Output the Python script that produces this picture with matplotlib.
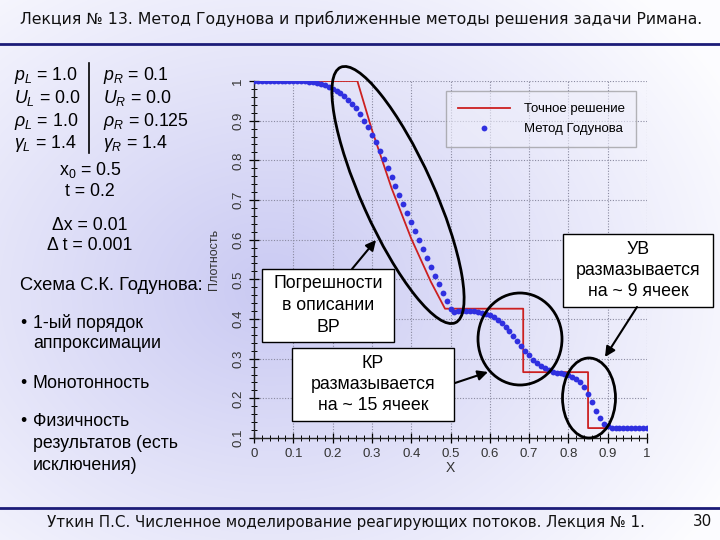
import numpy as np
import matplotlib.pyplot as plt
from matplotlib.patches import Ellipse, Rectangle
from matplotlib.ticker import MultipleLocator, FuncFormatter

plt.rcParams['font.family'] = ['Liberation Sans', 'DejaVu Sans']
plt.rcParams['mathtext.fontset'] = 'custom'
plt.rcParams['mathtext.rm'] = 'Liberation Sans'
plt.rcParams['mathtext.it'] = 'Liberation Sans:italic'

# Точное решение (задача Сода, t = 0.2)
x_exact = [0.0, 0.263, 0.30, 0.35, 0.40, 0.45, 0.486, 0.685, 0.685, 0.850, 0.850, 1.0]
rho_exact = [1.0, 1.0, 0.877, 0.730, 0.603, 0.494, 0.426, 0.426, 0.266, 0.266, 0.125, 0.125]

# Метод Годунова, 101 узел
x_god = np.round(np.arange(101) * 0.01, 2)
rho_god = [1.0] * 13 + [
    0.999, 0.998, 0.997, 0.995, 0.993, 0.989, 0.985, 0.980, 0.975, 0.969,
    0.961, 0.952, 0.942, 0.931, 0.916, 0.900, 0.883, 0.865, 0.845, 0.824,
    0.803, 0.781, 0.759, 0.736, 0.713, 0.690, 0.668, 0.645, 0.621, 0.598,
    0.576, 0.554, 0.531, 0.509, 0.487, 0.465, 0.445, 0.424, 0.418, 0.419,
    0.420, 0.420, 0.420, 0.419, 0.418, 0.416, 0.413, 0.410, 0.404, 0.397,
    0.389, 0.379, 0.369, 0.357, 0.345, 0.332, 0.320, 0.308, 0.297, 0.288,
    0.282, 0.276, 0.271, 0.267, 0.265, 0.263, 0.261, 0.258, 0.255, 0.249,
    0.240, 0.228, 0.211, 0.190, 0.168, 0.150, 0.136, 0.129, 0.126] + [0.125] * 9

legend_labels = ["Точное решение", "Метод Годунова"]

W, H = 720, 540
fig = plt.figure(figsize=(7.2, 5.4), dpi=100)

# фон слайда - мягкий градиент
bg = fig.add_axes([0, 0, 1, 1], zorder=-10)
yy, xx = np.mgrid[0:H, 0:W]
d = np.sqrt(((xx - 270) / 520.0) ** 2 + ((yy - 290) / 420.0) ** 2)
t = np.clip(d, 0, 1)[..., None]
c0 = np.array([0.79, 0.79, 0.95])
c1 = np.array([0.99, 0.99, 1.0])
bg.imshow(c0 * (1 - t) + c1 * t, extent=(0, W, H, 0), aspect='auto')
bg.set_xlim(0, W)
bg.set_ylim(H, 0)
bg.axis('off')

# график
ax = fig.add_axes([254 / W, 102 / H, 393 / W, 357 / H])
ax.set_facecolor('none')
ax.plot(x_exact, rho_exact, color='#cc2020', lw=1.3, label=legend_labels[0], zorder=3)
ax.plot(x_god, rho_god, 'o', color='#3030e0', ms=4.2, mec='none', label=legend_labels[1], zorder=4)
ax.set_xlim(0, 1)
ax.set_ylim(0.1, 1)
ax.xaxis.set_major_locator(MultipleLocator(0.1))
ax.xaxis.set_minor_locator(MultipleLocator(0.02))
ax.yaxis.set_major_locator(MultipleLocator(0.1))
ax.yaxis.set_minor_locator(MultipleLocator(0.02))
fmt = FuncFormatter(lambda v, p: f"{v:g}")
ax.xaxis.set_major_formatter(fmt)
ax.yaxis.set_major_formatter(fmt)
for s in ['top', 'right']:
    ax.spines[s].set_visible(False)
for s in ['left', 'bottom']:
    ax.spines[s].set_color('#222222')
    ax.spines[s].set_linewidth(1.0)
ax.tick_params(which='major', direction='inout', length=7, width=0.9, labelsize=9.5, labelcolor='#333333')
ax.tick_params(which='minor', direction='inout', length=4, width=0.7)
ax.tick_params(axis='y', labelrotation=90)
for lab in ax.get_yticklabels():
    lab.set_va('center')
ax.grid(True, which='major', color='#8a8aa0', linestyle=(0, (1, 1.5)), lw=0.8)
ax.set_xlabel("X", fontsize=10, color='#333333', labelpad=1)
ax.set_ylabel("Плотность", fontsize=9, color='#333333', labelpad=9)
leg = ax.legend(loc='upper right', bbox_to_anchor=(0.99, 0.99), fontsize=9.5, handlelength=4.0,
                borderpad=0.9, labelspacing=0.6, handletextpad=1.0, fancybox=False, numpoints=1)
leg.get_frame().set_edgecolor('#888888')
leg.get_frame().set_facecolor('#eeeefa')
leg.get_frame().set_alpha(0.6)

# слой для надписей в пикселях
ov = fig.add_axes([0, 0, 1, 1])
ov.set_xlim(0, W)
ov.set_ylim(H, 0)
ov.axis('off')

navy = '#1c1c78'
ov.plot([0, W], [44, 44], color=navy, lw=2)
ov.plot([0, W], [508, 508], color=navy, lw=2)
ov.text(20, 19, "Лекция № 13. Метод Годунова и приближенные методы решения задачи Римана.",
        fontsize=11.3, family='DejaVu Sans', va='center', ha='left', color='#111111')
ov.text(346, 522, "Уткин П.С. Численное моделирование реагирующих потоков. Лекция № 1.",
        fontsize=10.9, family='DejaVu Sans', va='center', ha='center', color='#111111')
ov.text(712, 521, "30", fontsize=10.9, family='DejaVu Sans', va='center', ha='right', color='#111111')

# параметры задачи
fs = 12.8
left_col = [r"$p_L$ = 1.0", r"$U_L$ = 0.0", r"$\rho_L$ = 1.0", r"$\gamma_L$ = 1.4"]
right_col = [r"$p_R$ = 0.1", r"$U_R$ = 0.0", r"$\rho_R$ = 0.125", r"$\gamma_R$ = 1.4"]
for i, (a, b) in enumerate(zip(left_col, right_col)):
    yv = 75 + i * 23
    ov.text(14, yv, a, fontsize=fs, va='center', ha='left')
    ov.text(103, yv, b, fontsize=fs, va='center', ha='left')
ov.plot([89, 89], [63, 153], color='black', lw=1.2)
ov.text(90, 170, r"$\mathrm{x}_0$ = 0.5", fontsize=fs, ha='center', va='center')
ov.text(90, 191, "t = 0.2", fontsize=fs, ha='center', va='center')
ov.text(90, 225, "Δx = 0.01", fontsize=fs, ha='center', va='center')
ov.text(90, 245, "Δ t = 0.001", fontsize=fs, ha='center', va='center')
ov.text(20, 285, "Схема С.К. Годунова:", fontsize=13.2, ha='left', va='center')
bullets = [(323, "•", "1-ый порядок"), (344, "", "аппроксимации"), (383, "•", "Монотонность"),
           (421, "•", "Физичность"), (443, "", "результатов (есть"), (465, "", "исключения)")]
for yv, b, txt in bullets:
    if b:
        ov.text(20, yv, b, fontsize=fs, ha='left', va='center')
    ov.text(33, yv, txt, fontsize=fs, ha='left', va='center')

# эллипсы
ov.add_patch(Ellipse((398, 195), 280, 72, angle=65.8, fill=False, ec='black', lw=2))
ov.add_patch(Ellipse((520, 339), 84, 92, fill=False, ec='black', lw=2))
ov.add_patch(Ellipse((589, 398), 53, 80, fill=False, ec='black', lw=2))

# стрелки
arrows = [((376, 240), (352, 269)), ((488, 372), (455, 383)), ((605, 357), (637, 307))]
for head, tail in arrows:
    ov.annotate('', xy=head, xytext=tail,
                arrowprops=dict(arrowstyle='-|>', color='black', lw=1.5, mutation_scale=15,
                                shrinkA=0, shrinkB=0))

# рамки с текстом
boxes = [((262, 269, 132, 73), ["Погрешности", "в описании", "ВР"]),
         ((292, 348, 162, 73), ["КР", "размазывается", "на ~ 15 ячеек"]),
         ((563, 234, 150, 73), ["УВ", "размазывается", "на ~ 9 ячеек"])]
for (bx, by, bw, bh), lines in boxes:
    ov.add_patch(Rectangle((bx, by), bw, bh, fc='white', ec='black', lw=1))
    for k, ln in enumerate(lines):
        ov.text(bx + bw / 2, by + 15 + k * 21.5, ln, fontsize=12.8, ha='center', va='center')

fig.savefig("out.png", dpi=100)
